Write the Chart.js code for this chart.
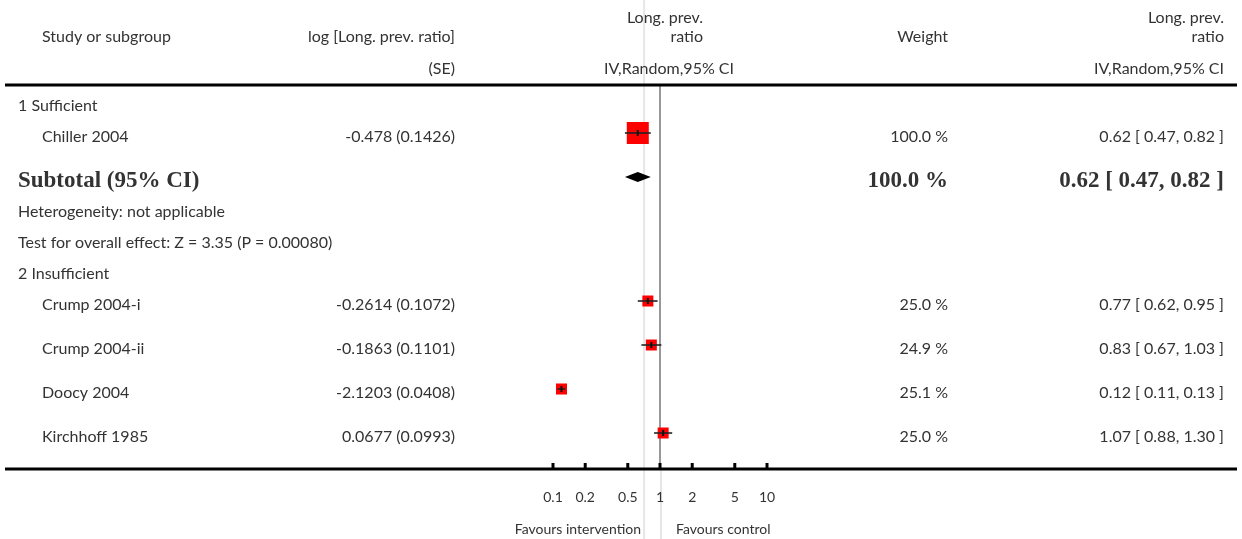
<!DOCTYPE html>
<html>
<head>
<meta charset="utf-8">
<script src="https://cdn.jsdelivr.net/npm/chart.js@4.4.0/dist/chart.umd.min.js"></script>
<style>
  html, body { margin: 0; padding: 0; background: #fff; }
  canvas { display: block; }
</style>
</head>
<body>
<canvas id="forest" width="1242" height="539"></canvas>
<script>
// Studies
const studies = ['Chiller 2004', 'Crump 2004-i', 'Crump 2004-ii', 'Doocy 2004', 'Kirchhoff 1985'];
const subgroupOf = [0, 1, 1, 1, 1];
const subgroups = ['1 Sufficient', '2 Insufficient'];
const logRatio = ['-0.478', '-0.2614', '-0.1863', '-2.1203', '0.0677'];
const logSE = ['0.1426', '0.1072', '0.1101', '0.0408', '0.0993'];
const ratio = [0.62, 0.77, 0.83, 0.12, 1.07];
const ratioLow = [0.47, 0.62, 0.67, 0.11, 0.88];
const ratioHigh = [0.82, 0.95, 1.03, 0.13, 1.30];
const weights = [100.0, 25.0, 24.9, 25.1, 25.0];

// Subtotal (only subgroup 1 has one)
const subtotalRatio = [0.62, 0.47, 0.82];
const subtotalWeight = 100.0;
const subtotalNotes = ['Heterogeneity: not applicable', 'Test for overall effect: Z = 3.35 (P = 0.00080)'];

// Axis
const tickValues = [0.1, 0.2, 0.5, 1, 2, 5, 10];
const tickLabels = ['0.1', '0.2', '0.5', '1', '2', '5', '10'];
const favoursLeft = 'Favours intervention';
const favoursRight = 'Favours control';
const guideValue = 0.71;

// Layout
const W = 1242, H = 539;
const TEXT = '#333';
const SANS = 'Lato, "DejaVu Sans", sans-serif';
const SERIF = '"Liberation Serif", "DejaVu Serif", serif';
const BODY_FONT = `16px ${SANS}`;
const SMALL_FONT = `14px ${SANS}`;
const BOLD_FONT = `bold 23px ${SERIF}`;
const COL = { group: 18, label: 42, est: 455, weight: 948, ci: 1224 };
const TOP_RULE = 85, AXIS_Y = 469;
const MARK_SHIFT = -4;

// build table rows and their vertical centres
const rows = [];
subgroups.forEach((name, g) => {
  rows.push({ kind: 'group', text: name });
  studies.forEach((s, i) => { if (subgroupOf[i] === g) rows.push({ kind: 'study', i: i }); });
  if (g === 0) {
    rows.push({ kind: 'subtotal' });
    subtotalNotes.forEach(t => rows.push({ kind: 'note', text: t }));
  }
});
let yPos = 106;
rows.forEach(r => { r.y = yPos; yPos += (r.kind === 'study') ? 44 : 31; });

const studyY = studies.map((s, i) => rows.find(r => r.kind === 'study' && r.i === i).y + MARK_SHIFT);
const subtotalY = rows.find(r => r.kind === 'subtotal').y + MARK_SHIFT;

// square side ~ sqrt(weight); Chart.js 'rect' side = 2 * r * SQRT1_2
const squareRadius = w => (22 * Math.sqrt(w / 100)) / (2 * Math.SQRT1_2);

const fmt2 = v => v.toFixed(2);
const ciText = (e, lo, hi) => `${fmt2(e)} [ ${fmt2(lo)}, ${fmt2(hi)} ]`;

// datasets
const datasets = [];
datasets.push({
  type: 'scatter',
  data: studies.map((s, i) => ({ x: ratio[i], y: studyY[i] })),
  pointStyle: 'rect',
  pointRadius: ctx => squareRadius(weights[ctx.dataIndex]),
  pointHoverRadius: ctx => squareRadius(weights[ctx.dataIndex]),
  backgroundColor: '#ff0000',
  borderWidth: 0,
  order: 3,
  clip: false
});
studies.forEach((s, i) => {
  datasets.push({
    type: 'line',
    data: [{ x: ratioLow[i], y: studyY[i] }, { x: ratioHigh[i], y: studyY[i] }],
    borderColor: '#222',
    borderWidth: 1.6,
    pointRadius: 0,
    order: 2,
    clip: false
  });
});
datasets.push({
  type: 'scatter',
  data: studies.map((s, i) => ({ x: ratio[i], y: studyY[i] })),
  pointStyle: 'line',
  rotation: 90,
  pointRadius: 3,
  borderColor: '#111',
  borderWidth: 2,
  order: 1,
  clip: false
});

function line(ctx, x1, y1, x2, y2, color, width) {
  ctx.save();
  ctx.strokeStyle = color;
  ctx.lineWidth = width;
  ctx.beginPath();
  ctx.moveTo(x1, y1);
  ctx.lineTo(x2, y2);
  ctx.stroke();
  ctx.restore();
}

function text(ctx, str, x, y, align, font) {
  ctx.font = font || BODY_FONT;
  ctx.fillStyle = TEXT;
  ctx.textAlign = align || 'left';
  ctx.textBaseline = 'middle';
  ctx.fillText(str, x, y);
}

const forestPlugin = {
  id: 'forest',
  beforeDatasetsDraw(chart) {
    const ctx = chart.ctx;
    const xs = chart.scales.x;
    const g = xs.getPixelForValue(guideValue);
    const one = xs.getPixelForValue(1);
    line(ctx, g, 0, g, H, '#e6e6e6', 2);
    line(ctx, one + 1, AXIS_Y, one + 1, H, '#e6e6e6', 2);
    line(ctx, one, TOP_RULE, one, AXIS_Y, '#999', 2);
  },
  afterDatasetsDraw(chart) {
    const ctx = chart.ctx;
    const xs = chart.scales.x, ys = chart.scales.y;

    // subtotal diamond
    const yc = ys.getPixelForValue(subtotalY);
    ctx.save();
    ctx.fillStyle = '#000';
    ctx.beginPath();
    ctx.moveTo(xs.getPixelForValue(subtotalRatio[1]), yc);
    ctx.lineTo(xs.getPixelForValue(subtotalRatio[0]), yc - 5);
    ctx.lineTo(xs.getPixelForValue(subtotalRatio[2]), yc);
    ctx.lineTo(xs.getPixelForValue(subtotalRatio[0]), yc + 5);
    ctx.closePath();
    ctx.fill();
    ctx.restore();

    // rules and axis
    line(ctx, 5, TOP_RULE, W - 5, TOP_RULE, '#000', 3);
    line(ctx, 5, AXIS_Y, W - 5, AXIS_Y, '#000', 3);
    tickValues.forEach((v, i) => {
      const px = xs.getPixelForValue(v);
      line(ctx, px, AXIS_Y - 6, px, AXIS_Y, '#000', 3);
      text(ctx, tickLabels[i], px, 497, 'center', SMALL_FONT);
    });
    const one = xs.getPixelForValue(1);
    text(ctx, favoursLeft, one - 19, 529, 'right', SMALL_FONT);
    text(ctx, favoursRight, one + 16, 529, 'left', SMALL_FONT);

    // header
    text(ctx, 'Study or subgroup', COL.label, 37);
    text(ctx, 'log [Long. prev. ratio]', COL.est, 37, 'right');
    text(ctx, '(SE)', COL.est, 69, 'right');
    text(ctx, 'Long. prev.', 703, 18, 'right');
    text(ctx, 'ratio', 703, 37, 'right');
    text(ctx, 'IV,Random,95% CI', 669, 69, 'center');
    text(ctx, 'Weight', COL.weight, 37, 'right');
    text(ctx, 'Long. prev.', COL.ci, 18, 'right');
    text(ctx, 'ratio', COL.ci, 37, 'right');
    text(ctx, 'IV,Random,95% CI', COL.ci, 69, 'right');

    // body rows
    rows.forEach(r => {
      if (r.kind === 'group' || r.kind === 'note') {
        text(ctx, r.text, COL.group, r.y);
      } else if (r.kind === 'study') {
        const i = r.i;
        text(ctx, studies[i], COL.label, r.y);
        text(ctx, `${logRatio[i]} (${logSE[i]})`, COL.est, r.y, 'right');
        text(ctx, `${weights[i].toFixed(1)} %`, COL.weight, r.y, 'right');
        text(ctx, ciText(ratio[i], ratioLow[i], ratioHigh[i]), COL.ci, r.y, 'right');
      } else if (r.kind === 'subtotal') {
        text(ctx, 'Subtotal (95% CI)', COL.group, r.y, 'left', BOLD_FONT);
        text(ctx, `${subtotalWeight.toFixed(1)} %`, COL.weight, r.y, 'right', BOLD_FONT);
        text(ctx, ciText(subtotalRatio[0], subtotalRatio[1], subtotalRatio[2]), COL.ci, r.y, 'right', BOLD_FONT);
      }
    });
  }
};

new Chart(document.getElementById('forest'), {
  data: { datasets: datasets },
  options: {
    responsive: false,
    animation: false,
    layout: { autoPadding: false, padding: { left: 553, right: W - 767, top: 0, bottom: 0 } },
    plugins: { legend: { display: false }, tooltip: { enabled: false } },
    scales: {
      x: { type: 'logarithmic', min: 0.1, max: 10, display: false },
      y: { type: 'linear', min: 0, max: H, reverse: true, display: false }
    }
  },
  plugins: [forestPlugin]
});
</script>
</body>
</html>
